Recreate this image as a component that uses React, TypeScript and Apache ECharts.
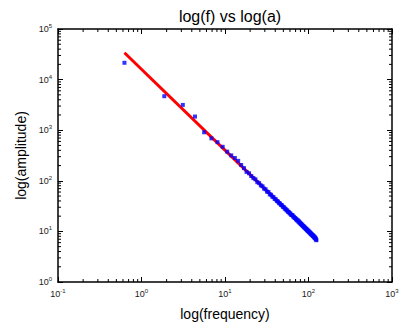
import React, { useEffect, useRef } from "react";
import * as echarts from "echarts";

// Odd-harmonic frequencies (Hz)
const frequencies: number[] = [
  0.625, 1.875, 3.125, 4.375, 5.625, 6.875, 8.125, 9.375, 10.625, 11.875,
  13.125, 14.375, 15.625, 16.875, 18.125, 19.375, 20.625, 21.875, 23.125, 24.375,
  25.625, 26.875, 28.125, 29.375, 30.625, 31.875, 33.125, 34.375, 35.625, 36.875,
  38.125, 39.375, 40.625, 41.875, 43.125, 44.375, 45.625, 46.875, 48.125, 49.375,
  50.625, 51.875, 53.125, 54.375, 55.625, 56.875, 58.125, 59.375, 60.625, 61.875,
  63.125, 64.375, 65.625, 66.875, 68.125, 69.375, 70.625, 71.875, 73.125, 74.375,
  75.625, 76.875, 78.125, 79.375, 80.625, 81.875, 83.125, 84.375, 85.625, 86.875,
  88.125, 89.375, 90.625, 91.875, 93.125, 94.375, 95.625, 96.875, 98.125, 99.375,
  100.625, 101.875, 103.125, 104.375, 105.625, 106.875, 108.125, 109.375, 110.625, 111.875,
  113.125, 114.375, 115.625, 116.875, 118.125, 119.375, 120.625, 121.875, 123.125, 124.375,
];

// Measured amplitudes
const amplitudes: number[] = [
  21500, 4700, 3160, 1860, 910, 690, 580, 470, 376, 318,
  282, 248, 205, 178, 150, 141, 124, 113, 107, 94,
  90, 81, 78, 70, 68, 61, 60, 54, 53, 48.5,
  47.5, 43.8, 42.9, 39.8, 38.9, 36.2, 35.6, 33.2, 32.8, 30.6,
  30.2, 28.3, 27.9, 26.2, 25.9, 24.4, 24.1, 22.8, 22.6, 21.3,
  21.1, 20.9, 19.6, 19.4, 18.5, 18.4, 17.4, 17.3, 16.5, 16.6,
  15.6, 15.7, 14.8, 14.9, 14.0, 14.2, 13.3, 13.5, 12.7, 12.8,
  12.1, 12.3, 11.6, 11.7, 11.1, 11.2, 10.6, 10.8, 10.2, 10.3,
  9.8, 9.9, 9.4, 9.5, 9.1, 9.1, 8.7, 8.8, 8.4, 8.5,
  8.1, 8.2, 7.8, 7.9, 7.5, 7.6, 7.3, 7.2, 6.9, 6.7,
];

// Fitted line endpoints
const fitFreq: number[] = [0.625, 124.375];
const fitAmp: number[] = [33900, 7.1];

// Axis ranges and minor tick multipliers
const xRange: number[] = [0.1, 1000];
const yRange: number[] = [1, 100000];
const xDecades: number[] = [0.1, 1, 10, 100];
const yDecades: number[] = [1, 10, 100, 1000, 10000];
const minorMultipliers: number[] = [2, 3, 4, 5, 6, 7, 8, 9];

const FONT = "'Liberation Sans', Arial, sans-serif";

const labelFmt = (v: number) => `{b|10}{s|${Math.round(Math.log10(v))}}`;
const richLabel = {
  b: { fontSize: 9, fontFamily: FONT, color: "#222", lineHeight: 12 },
  s: { fontSize: 6, fontFamily: FONT, color: "#222", lineHeight: 12, verticalAlign: "top", padding: [0, 0, 4, 0] },
};

export default function App() {
  const ref = useRef<HTMLDivElement>(null);
  useEffect(() => {
    if (!ref.current) return;
    const chart = echarts.init(ref.current, undefined, { renderer: "svg" });
    const axisCommon = {
      type: "log" as const,
      logBase: 10,
      axisLine: { show: true, onZero: false, lineStyle: { color: "#000", width: 1.5 } },
      axisTick: { show: true, inside: true, length: 5, lineStyle: { color: "#000" } },
      splitLine: { show: false },
    };
    chart.setOption({
      animation: false,
      backgroundColor: "#fff",
      title: {
        text: "log(f) vs log(a)",
        left: 225,
        top: 3,
        textAlign: "center",
        textStyle: { fontFamily: FONT, fontSize: 16, fontWeight: "normal", color: "#000" },
      },
      grid: { left: 58, right: 14, top: 29, bottom: 42 },
      xAxis: [
        {
          ...axisCommon,
          position: "bottom",
          min: xRange[0],
          max: xRange[1],
          splitNumber: 4,
          axisLabel: { formatter: labelFmt, rich: richLabel, margin: 6 },
          name: "log(frequency)",
          nameLocation: "middle",
          nameGap: 25,
          nameTextStyle: { fontFamily: FONT, fontSize: 14, color: "#000" },
        },
        {
          ...axisCommon,
          position: "top",
          min: xRange[0],
          max: xRange[1],
          splitNumber: 4,
          axisLabel: { show: false },
        },
      ],
      yAxis: [
        {
          ...axisCommon,
          position: "left",
          min: yRange[0],
          max: yRange[1],
          splitNumber: 5,
          axisLabel: { formatter: labelFmt, rich: richLabel, margin: 6 },
          name: "log(amplitude)",
          nameLocation: "middle",
          nameGap: 29,
          nameTextStyle: { fontFamily: FONT, fontSize: 14, color: "#000" },
        },
        {
          ...axisCommon,
          position: "right",
          min: yRange[0],
          max: yRange[1],
          splitNumber: 5,
          axisLabel: { show: false },
        },
      ],
      series: [
        {
          type: "custom",
          silent: true,
          clip: false,
          data: [[1, 1]],
          renderItem: (_params: any, api: any) => {
            const children: any[] = [];
            const style = { stroke: "#000", lineWidth: 1 };
            xDecades.forEach((d) =>
              minorMultipliers.forEach((m) => {
                const v = d * m;
                const b = api.coord([v, yRange[0]]);
                const t = api.coord([v, yRange[1]]);
                children.push({ type: "line", shape: { x1: b[0], y1: b[1], x2: b[0], y2: b[1] - 3 }, style });
                children.push({ type: "line", shape: { x1: t[0], y1: t[1], x2: t[0], y2: t[1] + 3 }, style });
              })
            );
            yDecades.forEach((d) =>
              minorMultipliers.forEach((m) => {
                const v = d * m;
                const l = api.coord([xRange[0], v]);
                const r = api.coord([xRange[1], v]);
                children.push({ type: "line", shape: { x1: l[0], y1: l[1], x2: l[0] + 3, y2: l[1] }, style });
                children.push({ type: "line", shape: { x1: r[0], y1: r[1], x2: r[0] - 3, y2: r[1] }, style });
              })
            );
            return { type: "group", children };
          },
          z: 1,
        },
        {
          type: "line",
          data: fitFreq.map((f, i) => [f, fitAmp[i]]),
          showSymbol: false,
          symbol: "none",
          lineStyle: { color: "#ff0000", width: 3 },
          z: 2,
        },
        {
          type: "scatter",
          data: frequencies.map((f, i) => [f, amplitudes[i]]),
          symbol: "rect",
          symbolSize: 4,
          itemStyle: { color: "#0000ff" },
          z: 3,
        },
      ],
    });
    return () => chart.dispose();
  }, []);
  return <div ref={ref} style={{ width: 406, height: 326, position: "absolute", left: 0, top: 0 }} />;
}
